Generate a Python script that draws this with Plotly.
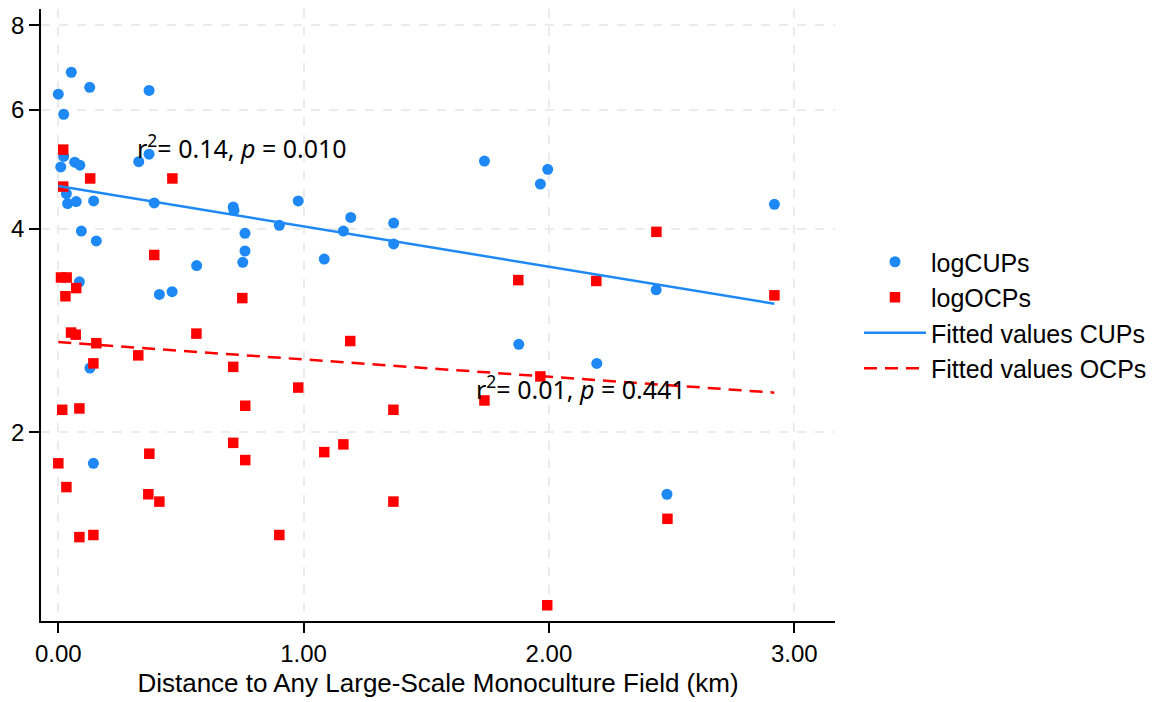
import math
import plotly.graph_objects as go

# ---- data ----
cups_x = [0.00, 0.053, 0.128, 0.370, 0.022, 0.022, 0.010, 0.067, 0.088, 0.033,
          0.038, 0.073, 0.144, 0.094, 0.155, 0.086, 0.328, 0.370, 0.391, 0.713,
          0.716, 0.761, 0.761, 0.752, 0.564, 0.412, 0.464, 0.901, 0.978, 1.084,
          1.162, 1.192, 1.367, 1.367, 1.737, 1.995, 1.965, 2.919, 2.437, 0.129,
          0.143, 1.877, 2.195, 2.481]
cups_y = [6.33, 6.82, 6.48, 6.41, 5.91, 5.12, 4.94, 5.02, 4.97, 4.51,
          4.36, 4.39, 4.40, 3.97, 3.84, 3.34, 5.03, 5.16, 4.37, 4.31,
          4.26, 3.94, 3.71, 3.57, 3.53, 3.20, 3.23, 4.05, 4.40, 3.61,
          3.97, 4.16, 4.08, 3.80, 5.04, 4.90, 4.66, 4.35, 3.25, 2.49,
          1.80, 2.70, 2.53, 1.62]

ocps_x = [0.020, 0.020, 0.130, 0.465, 0.391, 0.011, 0.034, 0.073, 0.029, 0.750,
          0.052, 0.071, 0.563, 0.155, 1.190, 0.326, 0.143, 0.713, 0.978, 0.016,
          0.086, 0.762, 1.366, 0.713, 0.000, 0.371, 0.762, 1.084, 1.162, 0.033,
          0.367, 0.412, 1.366, 0.086, 0.143, 0.901, 1.875, 2.193, 2.438, 2.919,
          1.965, 1.737, 1.993, 2.483]
ocps_y = [5.24, 4.62, 4.75, 4.75, 3.66, 3.39, 3.39, 3.27, 3.18, 3.16,
          2.81, 2.79, 2.80, 2.71, 2.73, 2.60, 2.53, 2.50, 2.33, 2.16,
          2.17, 2.19, 2.16, 1.93, 1.80, 1.86, 1.82, 1.87, 1.92, 1.66,
          1.62, 1.58, 1.58, 1.40, 1.41, 1.41, 3.36, 3.35, 3.96, 3.19,
          2.42, 2.23, 1.11, 1.49]

fit_cups_x = [0.0, 2.919]
fit_cups_y = [4.63, 3.10]
fit_ocps_x = [0.0, 2.919]
fit_ocps_y = [2.72, 2.29]

x_ticks = [0, 1, 2, 3]
x_ticktext = ["0.00", "1.00", "2.00", "3.00"]
y_ticks = [2, 4, 6, 8]
y_ticktext = ["2", "4", "6", "8"]

ann_cups = {"x": 0.313, "y": 5.29, "text": "r<sup>2</sup>= 0.14, <i>p</i> = 0.010"}
ann_ocps = {"x": 1.695, "y": 2.33, "text": "r<sup>2</sup>= 0.01, <i>p</i> = 0.441"}

BLUE = "#1E88F5"
RED = "#FF0000"
FONT = "Liberation Sans, Arial, sans-serif"

fig = go.Figure()
fig.add_trace(go.Scatter(x=cups_x, y=cups_y, mode="markers", name="logCUPs",
                         marker=dict(symbol="circle", size=11, color=BLUE, line=dict(width=0))))
fig.add_trace(go.Scatter(x=ocps_x, y=ocps_y, mode="markers", name="logOCPs",
                         marker=dict(symbol="square", size=10.5, color=RED, line=dict(width=0))))
fig.add_trace(go.Scatter(x=fit_cups_x, y=fit_cups_y, mode="lines", name="Fitted values CUPs",
                         line=dict(color=BLUE, width=2.5)))
fig.add_trace(go.Scatter(x=fit_ocps_x, y=fit_ocps_y, mode="lines", name="Fitted values OCPs",
                         line=dict(color=RED, width=2.5, dash="13px,8px")))

for a in (ann_cups, ann_ocps):
    fig.add_annotation(x=a["x"], y=math.log10(a["y"]), xref="x", yref="y", text=a["text"],
                       showarrow=False, xanchor="left", yanchor="middle",
                       font=dict(family="Noto Sans, sans-serif", size=25, color="black"))

fig.update_layout(
    width=1162, height=702, autosize=False,
    margin=dict(l=41, r=327, t=9, b=81),
    plot_bgcolor="white", paper_bgcolor="white",
    font=dict(family=FONT, size=24, color="black"),
    showlegend=True,
    legend=dict(x=1.0302, y=0.5, xanchor="left", yanchor="middle",
                itemwidth=62,
                font=dict(family=FONT, size=25, color="black"),
                bgcolor="rgba(0,0,0,0)"),
)
fig.update_xaxes(range=[-0.0705, 3.166], tickvals=x_ticks, ticktext=x_ticktext,
                 showline=True, linecolor="black", linewidth=1.5,
                 ticks="outside", ticklen=10, tickwidth=1.5, tickcolor="black",
                 showgrid=True, gridcolor="#EBEBEB", gridwidth=1.5, griddash="dash",
                 zeroline=False, mirror=False,
                 title=dict(text="Distance to Any Large-Scale Monoculture Field (km)",
                            font=dict(family=FONT, size=26), standoff=8),
                 tickfont=dict(family=FONT, size=24))
fig.update_yaxes(type="log", range=[math.log10(1.052), math.log10(8.46)],
                 tickvals=y_ticks, ticktext=y_ticktext,
                 showline=True, linecolor="black", linewidth=1.5,
                 ticks="outside", ticklen=10, tickwidth=1.5, tickcolor="black",
                 showgrid=True, gridcolor="#EBEBEB", gridwidth=1.5, griddash="dash",
                 zeroline=False, tickfont=dict(family=FONT, size=24))

fig.write_html("out.html")
